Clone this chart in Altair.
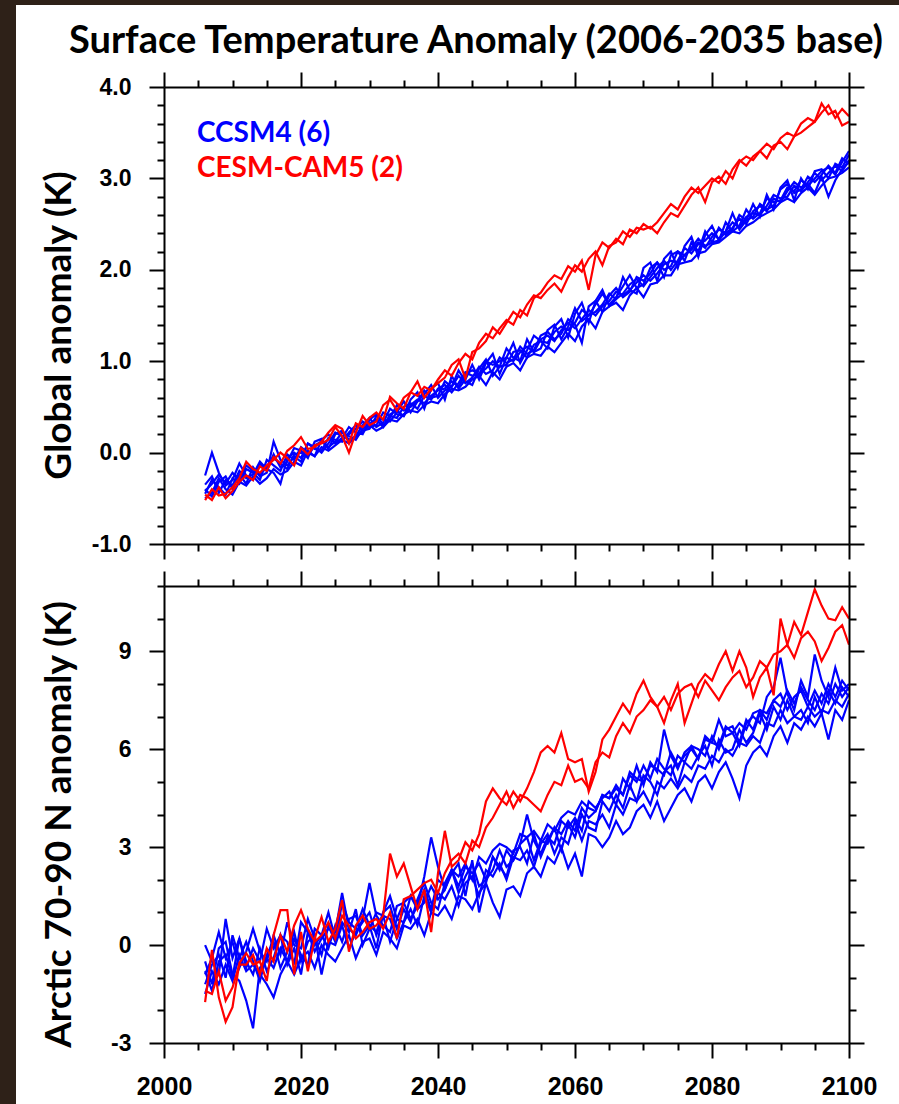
import altair as alt
import pandas as pd

years = list(range(2006, 2101))

# ---------------- Global anomaly (K) ----------------
glob_ccsm4_1 = [
    -0.25, 0.00, -0.22, -0.36, -0.30, -0.12, -0.25, -0.30, -0.12, -0.20,
    -0.02, -0.16, -0.10, 0.05, 0.02, -0.06, 0.12, 0.15, 0.04, 0.20,
    0.24, 0.14, 0.18, 0.30, 0.38, 0.28, 0.33, 0.48, 0.42, 0.40,
    0.58, 0.66, 0.48, 0.70, 0.76, 0.58, 0.84, 0.70, 0.80, 0.96,
    0.80, 0.98, 1.08, 0.86, 1.04, 1.20, 0.98, 1.12, 1.28, 1.22,
    1.14, 1.38, 1.46, 1.26, 1.52, 1.64, 1.42, 1.66, 1.78, 1.60,
    1.68, 1.92, 1.78, 1.74, 2.02, 2.08, 1.88, 2.12, 2.20, 2.02,
    2.26, 2.36, 2.14, 2.38, 2.48, 2.32, 2.42, 2.62, 2.44, 2.54,
    2.72, 2.58, 2.82, 2.66, 2.90, 2.98, 2.76, 3.00, 2.88, 3.08,
    3.10, 3.00, 3.16, 3.12, 3.26]
glob_ccsm4_2 = [
    -0.45, -0.30, -0.38, -0.46, -0.28, -0.34, -0.18, -0.22, -0.30, -0.08,
    -0.14, -0.20, -0.02, -0.08, 0.06, 0.00, -0.04, 0.14, 0.20, 0.10,
    0.16, 0.28, 0.22, 0.20, 0.36, 0.42, 0.30, 0.38, 0.52, 0.46,
    0.50, 0.56, 0.68, 0.60, 0.62, 0.78, 0.72, 0.84, 0.76, 0.82,
    0.94, 0.86, 0.90, 1.04, 0.98, 1.02, 1.16, 1.08, 1.12, 1.28,
    1.32, 1.24, 1.30, 1.46, 1.40, 1.20, 1.60, 1.66, 1.54, 1.72,
    1.80, 1.70, 1.76, 1.92, 1.88, 1.96, 2.08, 2.00, 2.04, 2.20,
    2.16, 2.24, 2.34, 2.26, 2.30, 2.46, 2.38, 2.44, 2.60, 2.54,
    2.58, 2.72, 2.66, 2.70, 2.88, 2.94, 2.84, 2.88, 3.02, 2.96,
    3.04, 3.14, 3.06, 3.22, 3.16]
glob_ccsm4_3 = [
    -0.40, -0.48, -0.32, -0.26, -0.40, -0.24, -0.34, -0.16, -0.26, -0.22,
    0.12, -0.08, -0.14, -0.04, -0.10, 0.10, 0.04, 0.02, 0.16, 0.14,
    0.12, 0.22, 0.30, 0.24, 0.26, 0.40, 0.36, 0.34, 0.44, 0.56,
    0.44, 0.56, 0.64, 0.74, 0.60, 0.68, 0.72, 0.90, 0.78, 0.74,
    0.92, 1.02, 0.84, 0.94, 1.14, 1.04, 1.00, 1.24, 1.10, 1.14,
    1.34, 1.40, 1.24, 1.38, 1.58, 1.44, 1.50, 1.62, 1.74, 1.62,
    1.70, 1.82, 1.94, 1.80, 1.84, 2.02, 2.08, 1.92, 2.16, 2.20,
    2.10, 2.30, 2.20, 2.42, 2.30, 2.32, 2.52, 2.42, 2.48, 2.66,
    2.56, 2.62, 2.78, 2.74, 2.76, 2.90, 2.86, 2.98, 2.92, 3.00,
    3.08, 3.12, 3.04, 3.18, 3.30]
glob_ccsm4_4 = [
    -0.35, -0.26, -0.44, -0.30, -0.36, -0.20, -0.28, -0.24, -0.10, -0.18,
    -0.22, -0.34, -0.06, 0.00, -0.06, 0.10, 0.06, 0.00, 0.10, 0.22,
    0.18, 0.20, 0.26, 0.34, 0.28, 0.30, 0.44, 0.40, 0.38, 0.50,
    0.54, 0.48, 0.62, 0.58, 0.70, 0.74, 0.66, 0.76, 0.88, 0.84,
    0.86, 0.92, 1.00, 0.94, 0.96, 1.10, 1.12, 1.04, 1.18, 1.22,
    1.20, 1.32, 1.38, 1.34, 1.42, 1.56, 1.50, 1.54, 1.62, 1.74,
    1.68, 1.74, 1.84, 1.90, 1.82, 1.92, 2.02, 2.10, 2.00, 2.10,
    2.24, 2.18, 2.28, 2.32, 2.40, 2.34, 2.42, 2.52, 2.46, 2.58,
    2.62, 2.60, 2.70, 2.82, 2.78, 2.80, 2.92, 2.86, 2.96, 3.06,
    2.98, 3.06, 3.14, 3.08, 3.20]
glob_ccsm4_5 = [
    -0.50, -0.44, -0.28, -0.40, -0.46, -0.32, -0.36, -0.26, -0.34, -0.28,
    -0.18, -0.24, -0.20, -0.10, -0.14, 0.02, -0.04, 0.06, 0.02, 0.08,
    0.14, 0.10, 0.18, 0.22, 0.30, 0.24, 0.28, 0.36, 0.34, 0.42,
    0.46, 0.44, 0.52, 0.56, 0.54, 0.64, 0.70, 0.68, 0.72, 0.80,
    0.84, 0.74, 0.88, 0.80, 0.94, 0.98, 0.90, 1.04, 1.08, 1.06,
    1.16, 1.10, 1.20, 1.30, 1.22, 1.38, 1.46, 1.36, 1.54, 1.60,
    1.64, 1.56, 1.72, 1.80, 1.70, 1.84, 1.86, 1.94, 1.94, 2.06,
    2.08, 2.10, 2.18, 2.20, 2.28, 2.30, 2.36, 2.42, 2.40, 2.48,
    2.52, 2.58, 2.62, 2.66, 2.74, 2.78, 2.74, 2.84, 2.90, 2.82,
    2.92, 3.00, 3.02, 3.06, 3.12]
glob_ccsm4_6 = [
    -0.42, -0.34, -0.24, -0.34, -0.22, -0.30, -0.14, -0.20, -0.24, -0.16,
    -0.06, -0.12, -0.18, -0.02, 0.00, -0.04, 0.08, 0.12, 0.06, 0.12,
    0.22, 0.18, 0.14, 0.26, 0.32, 0.36, 0.28, 0.42, 0.46, 0.40,
    0.52, 0.58, 0.54, 0.62, 0.68, 0.70, 0.78, 0.72, 0.86, 0.90,
    0.86, 1.00, 0.96, 1.00, 1.04, 1.00, 1.10, 1.16, 1.10, 1.24,
    1.28, 1.22, 1.34, 1.42, 1.36, 1.46, 1.56, 1.50, 1.60, 1.66,
    1.76, 1.72, 1.78, 1.86, 1.94, 1.88, 1.96, 2.06, 2.10, 2.08,
    2.16, 2.22, 2.30, 2.24, 2.36, 2.44, 2.40, 2.46, 2.56, 2.50,
    2.64, 2.70, 2.64, 2.78, 2.74, 2.86, 2.96, 2.90, 2.94, 2.84,
    3.02, 2.80, 2.98, 3.10, 3.18]
glob_cam5_1 = [
    -0.52, -0.40, -0.47, -0.45, -0.38, -0.28, -0.10, -0.18, -0.22, -0.14,
    -0.08, 0.00, -0.06, -0.14, 0.05, -0.02, 0.08, 0.10, 0.14, 0.28,
    0.18, 0.00, 0.22, 0.40, 0.30, 0.34, 0.52, 0.58, 0.46, 0.60,
    0.66, 0.78, 0.60, 0.70, 0.76, 0.82, 0.96, 1.02, 0.81, 1.10,
    1.14, 1.22, 1.37, 1.30, 1.42, 1.54, 1.48, 1.62, 1.72, 1.69,
    1.78, 1.85, 1.76, 1.92, 2.05, 1.98, 2.12, 2.20, 2.05, 2.26,
    2.30, 2.42, 2.36, 2.46, 2.44, 2.47, 2.40, 2.52, 2.62, 2.58,
    2.70, 2.82, 2.90, 2.74, 2.96, 3.02, 2.94, 3.10, 3.20, 3.14,
    3.24, 3.30, 3.22, 3.36, 3.40, 3.32, 3.46, 3.50, 3.56, 3.62,
    3.82, 3.70, 3.74, 3.58, 3.62]
glob_cam5_2 = [
    -0.46, -0.52, -0.38, -0.50, -0.42, -0.32, -0.25, -0.30, -0.15, -0.20,
    -0.05, -0.12, 0.02, 0.08, 0.17, 0.04, 0.06, 0.12, 0.22, 0.30,
    0.26, 0.10, 0.32, 0.28, 0.38, 0.44, 0.36, 0.61, 0.54, 0.48,
    0.66, 0.62, 0.72, 0.68, 0.80, 0.90, 0.84, 0.98, 1.08, 1.02,
    1.20, 1.30, 1.25, 1.36, 1.45, 1.40, 1.56, 1.50, 1.69, 1.75,
    1.86, 1.94, 1.90, 2.04, 1.98, 2.10, 1.78, 2.16, 2.30, 2.24,
    2.34, 2.28, 2.44, 2.40, 2.50, 2.45, 2.52, 2.62, 2.72, 2.66,
    2.80, 2.90, 2.84, 2.92, 3.00, 2.95, 3.08, 3.00, 3.18, 3.24,
    3.20, 3.30, 3.38, 3.32, 3.44, 3.50, 3.46, 3.60, 3.66, 3.62,
    3.72, 3.80, 3.66, 3.76, 3.68]

# ---------------- Arctic 70-90 N anomaly (K) ----------------
arc_ccsm4_1 = [
    -0.5, -1.2, -0.1, 0.1, -0.9, -1.1, -1.7, -2.55, -0.7, -0.4,
    -0.7, -0.1, -0.5, 0.2, -0.3, -0.6, 0.5, 0.3, -0.1, 0.6,
    0.1, 0.8, 0.9, 0.3, 0.6, -0.1, 1.0, 1.2, 0.5, 1.1,
    0.7, 1.4, 1.9, 1.3, 1.1, 1.9, 2.3, 1.6, 2.1, 2.5,
    1.8, 2.0, 2.7, 2.4, 2.1, 2.9, 3.0, 2.5, 3.4, 2.7,
    3.2, 3.6, 2.9, 3.7, 3.3, 4.0, 3.6, 3.5, 4.4, 4.1,
    4.6, 4.2, 4.9, 4.4, 5.2, 5.0, 4.6, 5.3, 5.5, 4.9,
    5.6, 5.4, 5.8, 6.1, 5.5, 6.3, 5.9, 6.0, 6.6, 6.2,
    6.5, 7.1, 6.6, 7.3, 6.9, 7.5, 7.0, 7.2, 6.8, 7.6,
    7.1, 7.8, 7.4, 7.9, 7.6]
arc_ccsm4_2 = [
    0.0, -0.5, -0.9, 0.8, -0.4, 0.2, -0.7, -0.1, -0.5, 0.5,
    -0.1, 0.3, 0.1, -0.6, 0.7, 0.4, -0.2, 0.2, 0.5, 0.4,
    1.6, 0.5, 0.3, 0.8, 1.9, 0.9, 0.6, 0.4, 1.2, 1.3,
    0.8, 1.2, 2.1, 3.3, 2.4, 1.7, 2.2, 2.5, 1.5, 2.6,
    1.0, 1.9, 2.7, 2.3, 2.9, 2.6, 3.1, 4.0, 3.2, 2.8,
    3.3, 3.1, 3.8, 3.6, 3.9, 3.5, 4.4, 4.2, 4.5, 4.7,
    4.3, 5.1, 4.8, 5.5, 4.9, 5.6, 5.3, 6.6, 5.8, 5.4,
    5.9, 6.1, 5.7, 6.3, 6.2, 6.9, 6.4, 6.5, 6.1, 6.8,
    7.0, 6.8, 7.6, 7.9, 8.8, 7.7, 7.2, 8.1, 7.6, 8.9,
    8.1, 7.6, 8.5, 7.8, 8.0]
arc_ccsm4_3 = [
    -1.5, -0.8, -1.2, -0.6, -1.1, -0.3, -0.8, -0.6, -0.9, -1.2,
    -1.6, -0.9, -0.5, -0.9, -0.4, -0.2, -0.7, 0.0, -0.3, -0.5,
    -0.1, 0.3, -0.4, 0.1, 0.2, -0.3, 0.4, 0.2, -0.1, 0.6,
    0.5, 0.8, 0.3, 1.0, 0.9, 1.2, 0.8, 1.5, 1.4, 1.1,
    1.6, 1.9, 1.3, 0.86, 1.7, 1.8, 1.5, 2.2, 2.4, 2.1,
    2.7, 2.5, 3.0, 2.35, 2.8, 2.1, 3.4, 3.3, 3.0, 3.3,
    3.8, 3.4, 3.6, 4.1, 4.3, 3.9, 4.4, 3.8, 4.2, 4.6,
    4.8, 4.4, 5.0, 5.2, 4.8, 5.3, 5.6, 5.1, 4.5, 5.5,
    5.9, 6.1, 5.8, 6.4, 6.7, 6.2, 6.8, 6.6, 7.0, 6.7,
    7.1, 6.3, 7.2, 6.9, 7.5]
arc_ccsm4_4 = [
    -1.2, -0.6, -0.3, -1.0, 0.3, -0.4, 0.1, -0.5, -1.1, -0.3,
    0.1, -0.7, -0.2, 0.4, -0.5, 0.1, 0.3, -0.9, 0.1, 0.0,
    0.6, -0.1, 0.4, 0.7, 1.0, 0.3, 0.9, 0.8, 0.2, 0.7,
    1.5, 1.1, 1.3, 1.8, 1.4, 1.7, 2.3, 1.8, 2.4, 2.2,
    2.5, 2.0, 2.3, 2.9, 2.4, 2.6, 3.1, 3.3, 2.6, 3.2,
    3.1, 3.6, 3.4, 3.8, 3.5, 4.2, 3.9, 4.1, 4.6, 4.5,
    4.9, 4.6, 5.2, 5.0, 5.5, 5.1, 5.7, 5.4, 5.2, 5.8,
    5.6, 6.1, 6.0, 5.8, 6.4, 6.0, 6.6, 6.7, 6.2, 6.9,
    6.6, 7.2, 7.1, 7.5, 7.3, 7.8, 7.4, 7.9, 7.5, 7.2,
    7.7, 7.4, 8.0, 7.6, 7.9]
arc_ccsm4_5 = [
    -0.8, -1.4, -0.5, -0.3, -1.0, 0.2, -0.5, -0.9, -0.1, -0.8,
    -0.4, 0.3, -0.6, -0.1, -0.9, 0.4, 0.0, 0.3, 1.0, 0.2,
    0.7, 0.4, 1.1, 0.0, 0.5, 1.0, 0.9, 0.1, 0.8, 0.7,
    1.1, 0.6, 1.5, 1.0, 1.6, 1.4, 1.8, 1.2, 1.9, 2.1,
    1.5, 2.3, 2.1, 2.5, 2.0, 2.7, 2.6, 2.9, 2.4, 3.1,
    3.4, 2.8, 3.3, 3.1, 3.8, 3.2, 3.8, 3.7, 4.0, 3.6,
    4.3, 4.0, 4.5, 4.4, 4.7, 4.3, 5.0, 4.8, 5.1, 4.8,
    5.2, 5.0, 5.5, 5.4, 5.8, 5.6, 6.0, 5.8, 6.2, 6.1,
    6.4, 6.2, 6.8, 6.7, 7.2, 6.8, 7.0, 6.9, 7.3, 7.0,
    7.2, 7.1, 7.5, 7.3, 7.7]
arc_ccsm4_6 = [
    -0.9, -0.4, 0.4, -0.4, 0.1, -0.7, -0.2, 0.5, -0.2, -0.5,
    0.3, -0.3, 0.7, 0.0, -0.1, 0.8, 0.2, -0.3, 0.6, 0.1,
    1.3, 0.7, 0.5, 1.1, 0.6, 0.4, 1.0, 1.5, 0.8, 1.3,
    1.5, 1.2, 1.7, 1.1, 2.0, 1.8, 2.3, 2.1, 2.5, 2.0,
    2.7, 2.5, 2.9, 3.1, 3.0, 2.8, 3.4, 3.3, 3.5, 3.2,
    3.7, 3.5, 3.9, 4.1, 4.0, 4.4, 4.2, 4.1, 4.6, 4.5,
    4.8, 4.6, 5.3, 5.1, 5.0, 5.5, 5.4, 5.2, 5.9, 5.5,
    5.8, 6.0, 5.7, 6.4, 6.2, 6.1, 6.7, 6.5, 6.8, 6.6,
    7.1, 7.2, 6.9, 7.5, 7.7, 7.2, 7.6, 7.8, 7.3, 7.8,
    7.4, 8.0, 7.6, 8.1, 7.8]
arc_cam5_1 = [
    -1.75, -0.15, -1.6, -2.35, -1.9, -0.55, -0.25, -0.6, -0.5, -1.1,
    0.3, 1.07, 1.07, -0.9, 0.4, -0.8, 0.2, 0.86, 0.1, 0.5,
    1.38, -0.2, 0.6, 0.9, 0.5, 0.6, 0.9, 2.8, 2.1, 2.5,
    1.8, 1.1, 1.7, 0.4, 2.2, 3.5, 2.4, 2.6, 3.15, 2.9,
    3.4, 4.4, 4.8, 4.5, 4.3, 4.7, 4.4, 4.8, 5.3, 5.9,
    6.1, 5.9, 6.5, 5.7, 5.6, 5.7, 4.7, 5.3, 6.3, 6.6,
    7.0, 7.4, 7.1, 7.7, 8.1, 7.6, 7.3, 6.8, 7.5, 8.0,
    6.8, 7.4, 8.0, 8.3, 8.1, 8.6, 9.0, 8.4, 9.0, 8.5,
    7.6, 8.2, 8.5, 7.65, 10.0, 9.2, 9.9, 9.5, 10.2, 10.9,
    10.4, 10.0, 9.95, 10.35, 10.0]
arc_cam5_2 = [
    -1.4, -1.5, -0.8, -1.7, -1.3, -0.6, -0.6, -0.3, -0.9, -0.1,
    -0.5, 0.3, -0.2, 0.6, 1.07, 0.5, 0.1, 0.3, 0.7, 0.2,
    0.9, 0.6, 0.2, 0.4, 0.7, 0.8, 0.5, 1.0, 0.2, 1.4,
    1.5, 1.7, 1.9, 2.0, 1.6, 2.2, 2.6, 2.8, 2.5, 3.2,
    3.0, 3.6, 3.9, 4.3, 4.7, 4.2, 4.6, 4.5, 4.3, 4.1,
    4.6, 5.0, 4.9, 5.5, 5.0, 5.1, 4.8, 5.6, 5.9, 5.75,
    6.4, 6.8, 6.5, 7.0, 7.2, 7.5, 7.3, 7.6, 7.2, 7.7,
    7.9, 8.0, 7.6, 8.1, 7.8, 7.5, 7.9, 8.2, 8.4, 7.9,
    8.2, 8.7, 8.5, 8.9, 9.0, 9.2, 8.8, 9.4, 9.6, 9.3,
    8.7, 9.1, 9.6, 9.8, 9.2]

chart_title = "Surface Temperature Anomaly (2006-2035 base)"
legend_labels = ["CCSM4 (6)", "CESM-CAM5 (2)"]
y_titles = ["Global anomaly (K)", "Arctic 70-90 N anomaly (K)"]
x_ticks = list(range(2000, 2101, 5))
y_ticks_global = [round(-1 + 0.2 * i, 1) for i in range(26)]
y_ticks_arctic = list(range(-3, 12))

BLUE = "#0000ff"
RED = "#ff0000"
W, H = 685, 457
TITLE_FONT = "Lato"
LABEL_FONT = "Liberation Sans"


def long_df(series):
    rows = []
    for name, vals in series.items():
        assert len(vals) == len(years), name
        for yr, v in zip(years, vals):
            rows.append({"year": yr, "value": v, "run": name})
    return pd.DataFrame(rows)


glob_blue = long_df({f"g_ccsm4_{i+1}": s for i, s in enumerate(
    [glob_ccsm4_1, glob_ccsm4_2, glob_ccsm4_3, glob_ccsm4_4, glob_ccsm4_5, glob_ccsm4_6])})
glob_red = long_df({"g_cam5_1": glob_cam5_1, "g_cam5_2": glob_cam5_2})
arc_blue = long_df({f"a_ccsm4_{i+1}": s for i, s in enumerate(
    [arc_ccsm4_1, arc_ccsm4_2, arc_ccsm4_3, arc_ccsm4_4, arc_ccsm4_5, arc_ccsm4_6])})
arc_red = long_df({"a_cam5_1": arc_cam5_1, "a_cam5_2": arc_cam5_2})

common_axis = dict(domain=True, domainColor="black", domainWidth=2, ticks=True,
                   tickColor="black", tickWidth=2, grid=False, zindex=1,
                   labelOverlap=False, labelFlush=False)
x_major = "datum.value % 20 == 0"


def tick_size(test):
    return {"condition": {"test": test, "value": 15}, "value": 7}


def panel(blue_df, red_df, ydomain, yticks, ymajor, ylabel_expr, ytitle, show_xlabels, extra):
    xs = alt.Scale(domain=[2000, 2100], nice=False, zero=False)
    ys = alt.Scale(domain=ydomain, nice=False, zero=False)
    xb_kwargs = dict(orient="bottom", values=x_ticks, tickSize=tick_size(x_major),
                     title=None, **common_axis)
    if show_xlabels:
        xb_kwargs.update(labels=True, format="d",
                         labelExpr=f"{x_major} ? datum.label : ''",
                         labelFont=LABEL_FONT, labelFontSize=25, labelFontWeight="bold",
                         labelColor="black", labelPadding=16)
    else:
        xb_kwargs.update(labels=False)
    x_bottom = alt.Axis(**xb_kwargs)
    x_top = alt.Axis(orient="top", values=x_ticks, tickSize=tick_size(x_major),
                     labels=False, title=None, **common_axis)
    y_left = alt.Axis(orient="left", values=yticks, tickSize=tick_size(ymajor),
                      labelExpr=ylabel_expr, labelFont=LABEL_FONT, labelFontSize=23,
                      labelFontWeight="bold", labelColor="black", labelPadding=18,
                      title=ytitle, titleFont=TITLE_FONT, titleFontSize=37,
                      titleFontWeight="bold", titleColor="black", titleAngle=270,
                      titleAlign="center", titleBaseline="alphabetic",
                      titleX=-94, titleY=238, **common_axis)
    y_right = alt.Axis(orient="right", values=yticks, tickSize=tick_size(ymajor),
                       labels=False, title=None, **common_axis)

    blue = alt.Chart(blue_df).mark_line(color=BLUE, strokeWidth=2.2).encode(
        x=alt.X("year:Q", scale=xs, axis=x_bottom),
        y=alt.Y("value:Q", scale=ys, axis=y_left),
        detail="run:N")
    red = alt.Chart(red_df).mark_line(color=RED, strokeWidth=2.2).encode(
        x=alt.X("year:Q", scale=xs, axis=None),
        y=alt.Y("value:Q", scale=ys, axis=None),
        detail="run:N")
    frame = alt.Chart(blue_df).mark_line(opacity=0).encode(
        x=alt.X("year:Q", scale=xs, axis=x_top),
        y=alt.Y("value:Q", scale=ys, axis=y_right),
        detail="run:N")
    return alt.layer(*extra[:1], blue, red, frame, *extra[1:]).resolve_axis(
        x="independent", y="independent").properties(width=W, height=H)


one = pd.DataFrame({"k": [0]})
bg_top = alt.Chart(one).mark_rect(color="white").encode(
    x=alt.value(-148), x2=alt.value(735), y=alt.value(-82), y2=alt.value(478))
bg_bot = alt.Chart(one).mark_rect(color="white").encode(
    x=alt.value(-148), x2=alt.value(735), y=alt.value(-21), y2=alt.value(518))

title_txt = alt.Chart(pd.DataFrame({"t": [chart_title]})).mark_text(
    font=TITLE_FONT, fontSize=38, fontWeight="bold", color="black",
    align="center", baseline="alphabetic").encode(
    text="t:N", x=alt.value(312), y=alt.value(-34))
leg1 = alt.Chart(pd.DataFrame({"t": [legend_labels[0]]})).mark_text(
    font=TITLE_FONT, fontSize=28, fontWeight="bold", color=BLUE,
    align="left", baseline="alphabetic").encode(
    text="t:N", x=alt.value(33), y=alt.value(55))
leg2 = alt.Chart(pd.DataFrame({"t": [legend_labels[1]]})).mark_text(
    font=TITLE_FONT, fontSize=28, fontWeight="bold", color=RED,
    align="left", baseline="alphabetic").encode(
    text="t:N", x=alt.value(33), y=alt.value(90))

g_major = "round(datum.value * 10) % 10 == 0"
g_label = f"{g_major} ? replace(format(datum.value, '.1f'), '\u2212', '-') : ''"
a_major = "datum.value % 3 == 0"
a_label = f"{a_major} ? replace(format(datum.value, 'd'), '\u2212', '-') : ''"

top = panel(glob_blue, glob_red, [-1, 4], y_ticks_global, g_major, g_label,
            y_titles[0], False, [bg_top, title_txt, leg1, leg2])
bottom = panel(arc_blue, arc_red, [-3, 11], y_ticks_arctic, a_major, a_label,
               y_titles[1], True, [bg_bot])

chart = alt.vconcat(top, bottom, spacing=42, bounds="flush").properties(
    padding={"left": 16, "top": 5, "right": 0, "bottom": 0},
    background="#2e2118",
).configure_view(stroke=None)

chart.save("out.html", embed_options={"renderer": "svg", "actions": False})
